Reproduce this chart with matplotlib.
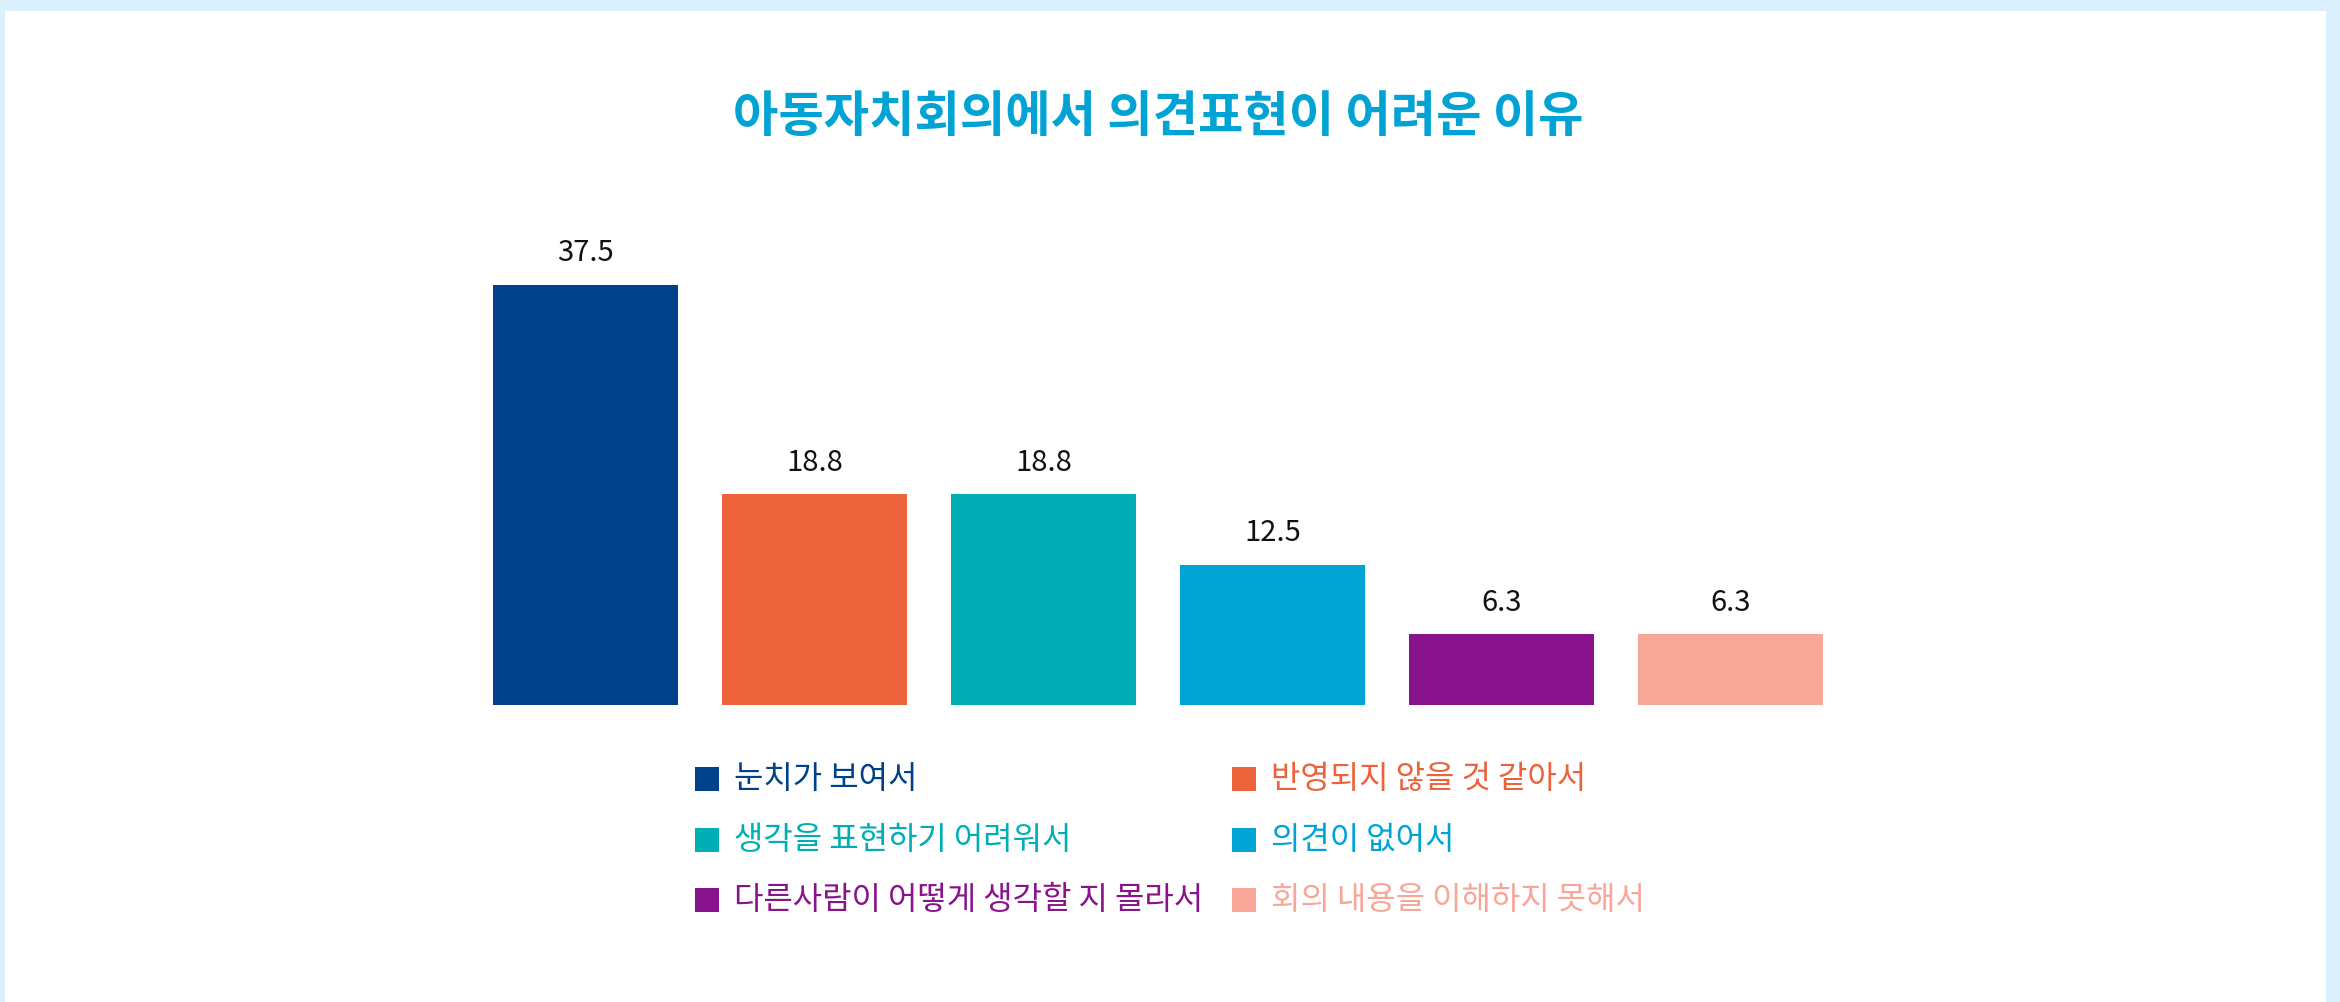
import matplotlib
matplotlib.use("Agg")
import matplotlib.pyplot as plt
from matplotlib.patches import Rectangle

plt.rcParams['font.family'] = ['Noto Sans CJK KR', 'DejaVu Sans']

# data
title = '아동자치회의에서 의견표현이 어려운 이유'
categories = ['눈치가 보여서', '반영되지 않을 것 같아서', '생각을 표현하기 어려워서',
              '의견이 없어서', '다른사람이 어떻게 생각할 지 몰라서', '회의 내용을 이해하지 못해서']
values = [37.5, 18.8, 18.8, 12.5, 6.3, 6.3]
colors = ['#004289', '#EB623B', '#00AEB5', '#00A4D4', '#89138C', '#F7A698']

W, H = 2340, 1002
fig = plt.figure(figsize=(W / 100, H / 100), dpi=100)
fig.patch.set_facecolor('#DAF1FD')


def fx(x):
    return x / W


def fy(y):
    return 1 - y / H


# white card with light blue frame
fig.add_artist(Rectangle((fx(5), 0), fx(2326 - 5), fy(11), transform=fig.transFigure,
                         facecolor='white', edgecolor='none', zorder=0))

# bar axes: bottom at y=705px, top at y=190px
ax_left, ax_right, ax_top, ax_bottom = 471, 1845, 190, 705
ax = fig.add_axes([fx(ax_left), fy(ax_bottom), fx(ax_right - ax_left), (ax_bottom - ax_top) / H])
ax.set_facecolor('none')

px_per_unit = 11.2
ax.set_xlim(-0.5, len(values) - 0.5)
ax.set_ylim(0, (ax_bottom - ax_top) / px_per_unit)

x = range(len(values))
bars = ax.bar(x, values, width=0.81, color=colors)
for b, v in zip(bars, values):
    ax.annotate(f'{v:.1f}', (b.get_x() + b.get_width() / 2, b.get_height()),
                xytext=(0, 12), textcoords='offset points',
                ha='center', va='bottom', fontsize=21, color='#111111')

ax.set_xticks([])
ax.set_yticks([])
for s in ax.spines.values():
    s.set_visible(False)

# title
fig.text(fx(1158), fy(117), title, ha='center', va='center', fontsize=35.5,
         fontweight='bold', color='#00A3D3')

# legend, laid out row by row (two columns)
col_x = [695, 1232]
row_y = [779, 840, 900]
sq = 24
for i, (cat, c) in enumerate(zip(categories, colors)):
    lx = col_x[i % 2]
    ly = row_y[i // 2]
    fig.add_artist(Rectangle((fx(lx), fy(ly + sq / 2)), fx(sq), sq / H,
                             transform=fig.transFigure, facecolor=c, edgecolor='none'))
    fig.text(fx(lx + sq + 15), fy(ly), cat, ha='left', va='center',
             fontsize=23, fontweight='medium', color=c)

fig.savefig('out.png', dpi=100, facecolor=fig.get_facecolor())
